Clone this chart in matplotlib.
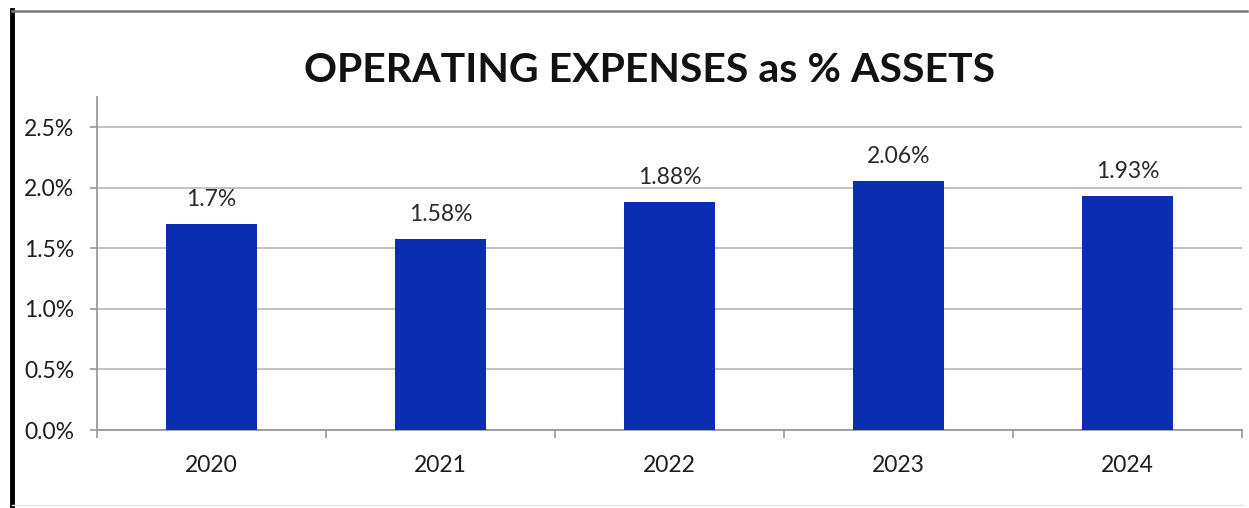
import matplotlib.pyplot as plt
from matplotlib.lines import Line2D
from matplotlib.ticker import FuncFormatter

years = ['2020', '2021', '2022', '2023', '2024']
expense_pct = [1.7, 1.58, 1.88, 2.06, 1.93]
value_labels = ['1.7%', '1.58%', '1.88%', '2.06%', '1.93%']
y_ticks = [0.0, 0.5, 1.0, 1.5, 2.0, 2.5]

plt.rcParams['font.family'] = ['Lato', 'DejaVu Sans']

fig = plt.figure(figsize=(12.49, 5.08), dpi=100, facecolor='white')
ax = fig.add_axes([0.0777, 0.1535, 0.9167, 0.6555])

x = list(range(len(years)))
ax.bar(x, expense_pct, width=0.40, color='#0a2db2', zorder=3)

for xi, v, lab in zip(x, expense_pct, value_labels):
    ax.annotate(lab, (xi, v), xytext=(0, 10), textcoords='offset points',
                ha='center', va='bottom', fontsize=16.5, color='#2a2a2a')

ax.set_xlim(-0.5, len(years) - 0.5)
ax.set_ylim(0, 2.75)
ax.set_yticks(y_ticks)
ax.yaxis.set_major_formatter(FuncFormatter(lambda v, p: f'{v:.1f}%'))
ax.grid(axis='y', color='#bdbdbd', linewidth=1.3, zorder=0)

ax.set_xticks(x)
ax.set_xticklabels(years)
ax.set_xticks([i - 0.5 for i in range(len(years) + 1)], minor=True)
ax.tick_params(axis='x', which='major', length=0, pad=18, labelsize=16.5,
               labelcolor='#1e1e1e')
ax.tick_params(axis='x', which='minor', length=6, color='#9a9a9a', width=1.2)
ax.tick_params(axis='y', length=5, color='#9a9a9a', width=1.2, pad=11.5,
               labelsize=16.5, labelcolor='#1e1e1e')

for side in ('top', 'right'):
    ax.spines[side].set_visible(False)
for side in ('left', 'bottom'):
    ax.spines[side].set_color('#9a9a9a')
    ax.spines[side].set_linewidth(1.3)

fig.text(0.52, 0.862, 'OPERATING EXPENSES as % ASSETS', ha='center', va='center',
         fontsize=29.5, fontweight='bold', color='#111111')

# frame around the chart
fig.add_artist(Line2D([0.0096, 0.0096], [0.0, 0.98], color='black', linewidth=3.5))
fig.add_artist(Line2D([0.0096, 0.998], [0.979, 0.979], color='#777777', linewidth=1.8))
fig.add_artist(Line2D([0.0096, 0.995], [0.006, 0.006], color='#e4e4e4', linewidth=1.0))

fig.savefig('out.png', dpi=100, facecolor='white')
